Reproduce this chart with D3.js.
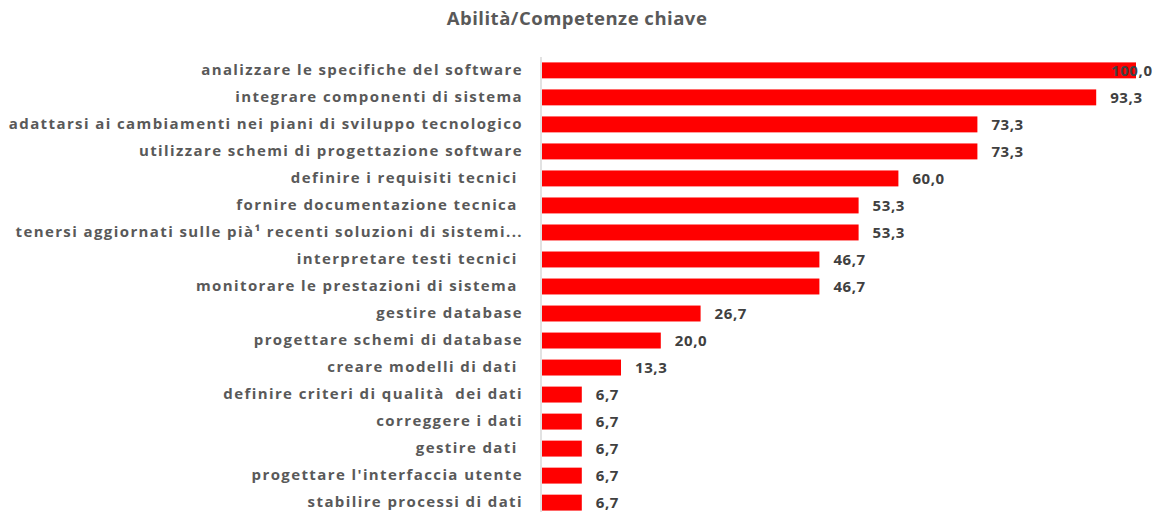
<!DOCTYPE html>
<html><head><meta charset="utf-8">
<script src="https://cdn.jsdelivr.net/npm/d3@7"></script>
<style>body{margin:0;background:#fff;} text{white-space:pre;}</style>
</head><body>
<svg id="chart" width="1162" height="512"></svg>
<script>
const title = "Abilità/Competenze chiave";
const categories = [
  "analizzare le specifiche del software",
  "integrare componenti di sistema",
  "adattarsi ai cambiamenti nei piani di sviluppo tecnologico",
  "utilizzare schemi di progettazione software",
  "definire i requisiti tecnici ",
  "fornire documentazione tecnica ",
  "tenersi aggiornati sulle pià¹ recenti soluzioni di sistemi...",
  "interpretare testi tecnici ",
  "monitorare le prestazioni di sistema ",
  "gestire database",
  "progettare schemi di database",
  "creare modelli di dati ",
  "definire criteri di qualità  dei dati",
  "correggere i dati",
  "gestire dati ",
  "progettare l'interfaccia utente",
  "stabilire processi di dati"
];
const values = [100.0, 93.3, 73.3, 73.3, 60.0, 53.3, 53.3, 46.7, 46.7, 26.7, 20.0, 13.3, 6.7, 6.7, 6.7, 6.7, 6.7];

(function () {
const svg = d3.select("#chart");
const W = 1162, H = 512;
const mLeft = 542, mRight = 1136, mTop = 57, mBottom = 516;

const x = d3.scaleLinear().domain([0, 100]).range([mLeft, mRight]);
const y = d3.scaleBand().domain(categories).range([mTop, mBottom]).paddingInner(0.41).paddingOuter(0.2);

const font = "'Open Sans', sans-serif";

svg.append("text").attr("x", 577).attr("y", 25).attr("text-anchor", "middle")
  .attr("font-family", font).attr("font-weight", 700).attr("font-size", 18.5)
  .attr("letter-spacing", 0.5)
  .attr("fill", "#595959").text(title);

svg.append("g").selectAll("rect").data(values).join("rect")
  .attr("x", x(0)).attr("y", (d, i) => y(categories[i]))
  .attr("width", d => x(d) - x(0)).attr("height", y.bandwidth())
  .attr("fill", "#ff0000");

const yAxis = d3.axisLeft(y).tickSize(0).tickPadding(18);
const gy = svg.append("g").attr("transform", `translate(${mLeft - 1},0)`).call(yAxis);
gy.select(".domain").attr("stroke", "#d9d9d9").attr("stroke-width", 1.5)
  .attr("d", `M0,${mTop}V${H}`);
gy.selectAll(".tick text").attr("font-family", font).attr("font-weight", 700)
  .attr("font-size", 15).attr("letter-spacing", 1.4).attr("fill", "#595959");

svg.append("g").selectAll("text").data(values).join("text")
  .attr("x", d => Math.min(x(d) + 14, 1111))
  .attr("y", (d, i) => y(categories[i]) + y.bandwidth() / 2)
  .attr("dy", "0.35em")
  .attr("font-family", font).attr("font-weight", 700).attr("font-size", 15)
  .attr("letter-spacing", 0.6)
  .attr("fill", "#404040")
  .text(d => d3.format(".1f")(d).replace(".", ","));
})();
</script>
</body></html>
